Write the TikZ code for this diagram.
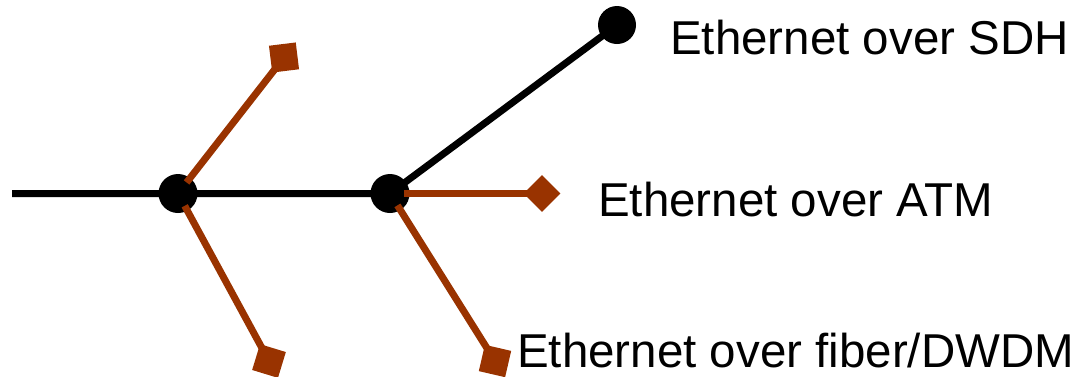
\documentclass[tikz,border=0pt]{standalone}
\usepackage{fontspec}
\setmainfont{Liberation Sans}
\definecolor{rust}{HTML}{993300}
\begin{document}
\begin{tikzpicture}[x=1pt,y=-1pt,
  trunk/.style={line width=7pt,black},
  branch/.style={line width=7pt,rust,shorten <=14pt},
  junction/.style={circle,fill=black,inner sep=0pt,minimum size=39pt},
  endbox/.style={rectangle,fill=rust,inner sep=0pt,minimum size=27pt},
  label/.style={anchor=base west,inner sep=0pt,font=\fontsize{47.5pt}{50pt}\selectfont}]
\useasboundingbox (0,0) rectangle (1073,376);
% positions of the junctions and line ends
\coordinate (start) at (12,193.5);
\coordinate (pa) at (178,193.5);
\coordinate (pb) at (390,193.5);
\coordinate (pc) at (617,25);
% black backbone
\draw[trunk] (start) -- (pa) -- (pb) -- (pc);
\node[junction] (a) at (pa) {};
\node[junction] (b) at (pb) {};
\node[junction,minimum size=38pt] (c) at (pc) {};
% brown branches with square ends
\node[endbox,rotate=7] (e1) at (284,57.5) {};
\node[endbox,rotate=-17] (e2) at (269,361) {};
\node[endbox,rotate=45,minimum size=26pt] (e3) at (542,193.5) {};
\node[endbox,rotate=-13] (e4) at (495,361) {};
\draw[branch] (a.center) -- (e1.center);
\draw[branch] (a.center) -- (e2.center);
\draw[branch] (b.center) -- (e3.center);
\draw[branch] (b.center) -- (e4.center);
% labels
\node[label] (l1) at (670,54) {Ethernet over SDH};
\node[label] (l2) at (598,216) {Ethernet over ATM};
\node[label] (l3) at (517,367) {Ethernet over fiber/DWDM};
\end{tikzpicture}
\end{document}
